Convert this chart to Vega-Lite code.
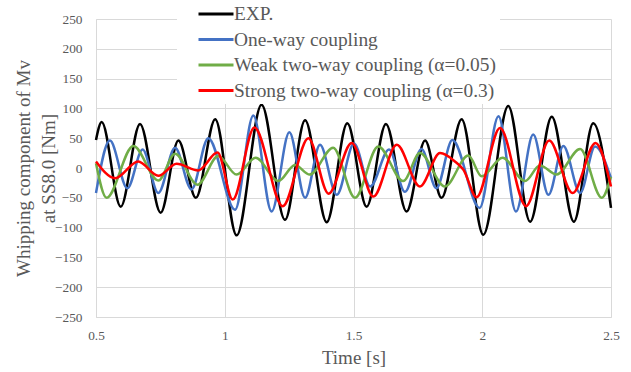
{
  "$schema": "https://vega.github.io/schema/vega-lite/v6.json",
  "width": 515,
  "height": 298,
  "autosize": {"type": "none"},
  "padding": {"left": 96, "top": 19, "right": 20, "bottom": 55},
  "background": "white",
  "config": {
    "view": {"stroke": null},
    "font": "Liberation Serif",
    "axis": {
      "labelFont": "Liberation Serif",
      "titleFont": "Liberation Serif",
      "labelColor": "#595959",
      "titleColor": "#595959",
      "labelFontSize": 13.33,
      "titleFontSize": 19,
      "titleFontWeight": "normal",
      "gridColor": "#D9D9D9",
      "gridWidth": 1,
      "domainColor": "#D9D9D9",
      "ticks": false
    },
    "legend": {
      "labelFont": "Liberation Serif",
      "labelColor": "#595959"
    }
  },
  "data": {
    "values": [
      {"s": "EXP.", "t": 0.5, "v": 47},
      {"s": "EXP.", "t": 0.522, "v": 77},
      {"s": "EXP.", "t": 0.596, "v": -65},
      {"s": "EXP.", "t": 0.671, "v": 74},
      {"s": "EXP.", "t": 0.751, "v": -75},
      {"s": "EXP.", "t": 0.82, "v": 46},
      {"s": "EXP.", "t": 0.888, "v": -50},
      {"s": "EXP.", "t": 0.963, "v": 82},
      {"s": "EXP.", "t": 1.046, "v": -113},
      {"s": "EXP.", "t": 1.143, "v": 106},
      {"s": "EXP.", "t": 1.234, "v": -87},
      {"s": "EXP.", "t": 1.312, "v": 80},
      {"s": "EXP.", "t": 1.396, "v": -91},
      {"s": "EXP.", "t": 1.476, "v": 75},
      {"s": "EXP.", "t": 1.551, "v": -65},
      {"s": "EXP.", "t": 1.626, "v": 74},
      {"s": "EXP.", "t": 1.706, "v": -73},
      {"s": "EXP.", "t": 1.778, "v": 46},
      {"s": "EXP.", "t": 1.842, "v": -50},
      {"s": "EXP.", "t": 1.92, "v": 82},
      {"s": "EXP.", "t": 2.004, "v": -112},
      {"s": "EXP.", "t": 2.101, "v": 104},
      {"s": "EXP.", "t": 2.186, "v": -90},
      {"s": "EXP.", "t": 2.27, "v": 86},
      {"s": "EXP.", "t": 2.356, "v": -90},
      {"s": "EXP.", "t": 2.431, "v": 75},
      {"s": "EXP.", "t": 2.5, "v": -67},

      {"s": "One-way coupling", "t": 0.5, "v": -42},
      {"s": "One-way coupling", "t": 0.554, "v": 46},
      {"s": "One-way coupling", "t": 0.622, "v": -34},
      {"s": "One-way coupling", "t": 0.681, "v": 31},
      {"s": "One-way coupling", "t": 0.742, "v": -42},
      {"s": "One-way coupling", "t": 0.807, "v": 34},
      {"s": "One-way coupling", "t": 0.871, "v": -36},
      {"s": "One-way coupling", "t": 0.936, "v": 50},
      {"s": "One-way coupling", "t": 1.04, "v": -70},
      {"s": "One-way coupling", "t": 1.111, "v": 88},
      {"s": "One-way coupling", "t": 1.182, "v": -73},
      {"s": "One-way coupling", "t": 1.251, "v": 60},
      {"s": "One-way coupling", "t": 1.312, "v": -50},
      {"s": "One-way coupling", "t": 1.37, "v": 39},
      {"s": "One-way coupling", "t": 1.435, "v": -45},
      {"s": "One-way coupling", "t": 1.502, "v": 41},
      {"s": "One-way coupling", "t": 1.565, "v": -31},
      {"s": "One-way coupling", "t": 1.638, "v": 31},
      {"s": "One-way coupling", "t": 1.7, "v": -40},
      {"s": "One-way coupling", "t": 1.764, "v": 32},
      {"s": "One-way coupling", "t": 1.822, "v": -34},
      {"s": "One-way coupling", "t": 1.884, "v": 47},
      {"s": "One-way coupling", "t": 1.99, "v": -67},
      {"s": "One-way coupling", "t": 2.063, "v": 87},
      {"s": "One-way coupling", "t": 2.131, "v": -73},
      {"s": "One-way coupling", "t": 2.198, "v": 56},
      {"s": "One-way coupling", "t": 2.257, "v": -45},
      {"s": "One-way coupling", "t": 2.315, "v": 37},
      {"s": "One-way coupling", "t": 2.38, "v": -42},
      {"s": "One-way coupling", "t": 2.438, "v": 36},
      {"s": "One-way coupling", "t": 2.5, "v": -17},

      {"s": "Weak two-way coupling (α=0.05)", "t": 0.5, "v": 8},
      {"s": "Weak two-way coupling (α=0.05)", "t": 0.541, "v": -50},
      {"s": "Weak two-way coupling (α=0.05)", "t": 0.645, "v": 37},
      {"s": "Weak two-way coupling (α=0.05)", "t": 0.742, "v": -21},
      {"s": "Weak two-way coupling (α=0.05)", "t": 0.807, "v": 24},
      {"s": "Weak two-way coupling (α=0.05)", "t": 0.894, "v": -28},
      {"s": "Weak two-way coupling (α=0.05)", "t": 0.975, "v": 20},
      {"s": "Weak two-way coupling (α=0.05)", "t": 1.046, "v": -11},
      {"s": "Weak two-way coupling (α=0.05)", "t": 1.12, "v": 17},
      {"s": "Weak two-way coupling (α=0.05)", "t": 1.208, "v": -22},
      {"s": "Weak two-way coupling (α=0.05)", "t": 1.273, "v": 5},
      {"s": "Weak two-way coupling (α=0.05)", "t": 1.33, "v": -11},
      {"s": "Weak two-way coupling (α=0.05)", "t": 1.421, "v": 34},
      {"s": "Weak two-way coupling (α=0.05)", "t": 1.506, "v": -50},
      {"s": "Weak two-way coupling (α=0.05)", "t": 1.596, "v": 36},
      {"s": "Weak two-way coupling (α=0.05)", "t": 1.693, "v": -22},
      {"s": "Weak two-way coupling (α=0.05)", "t": 1.758, "v": 25},
      {"s": "Weak two-way coupling (α=0.05)", "t": 1.855, "v": -31},
      {"s": "Weak two-way coupling (α=0.05)", "t": 1.946, "v": 21},
      {"s": "Weak two-way coupling (α=0.05)", "t": 1.998, "v": -14},
      {"s": "Weak two-way coupling (α=0.05)", "t": 2.079, "v": 17},
      {"s": "Weak two-way coupling (α=0.05)", "t": 2.166, "v": -22},
      {"s": "Weak two-way coupling (α=0.05)", "t": 2.224, "v": 4},
      {"s": "Weak two-way coupling (α=0.05)", "t": 2.289, "v": -11},
      {"s": "Weak two-way coupling (α=0.05)", "t": 2.38, "v": 32},
      {"s": "Weak two-way coupling (α=0.05)", "t": 2.464, "v": -50},
      {"s": "Weak two-way coupling (α=0.05)", "t": 2.5, "v": -15},

      {"s": "Strong two-way coupling (α=0.3)", "t": 0.5, "v": 11},
      {"s": "Strong two-way coupling (α=0.3)", "t": 0.574, "v": -17},
      {"s": "Strong two-way coupling (α=0.3)", "t": 0.664, "v": 11},
      {"s": "Strong two-way coupling (α=0.3)", "t": 0.742, "v": -13},
      {"s": "Strong two-way coupling (α=0.3)", "t": 0.813, "v": 7},
      {"s": "Strong two-way coupling (α=0.3)", "t": 0.897, "v": -4},
      {"s": "Strong two-way coupling (α=0.3)", "t": 0.972, "v": 26},
      {"s": "Strong two-way coupling (α=0.3)", "t": 1.031, "v": -53},
      {"s": "Strong two-way coupling (α=0.3)", "t": 1.115, "v": 68},
      {"s": "Strong two-way coupling (α=0.3)", "t": 1.225, "v": -64},
      {"s": "Strong two-way coupling (α=0.3)", "t": 1.325, "v": 50},
      {"s": "Strong two-way coupling (α=0.3)", "t": 1.403, "v": -43},
      {"s": "Strong two-way coupling (α=0.3)", "t": 1.493, "v": 42},
      {"s": "Strong two-way coupling (α=0.3)", "t": 1.577, "v": -48},
      {"s": "Strong two-way coupling (α=0.3)", "t": 1.668, "v": 39},
      {"s": "Strong two-way coupling (α=0.3)", "t": 1.758, "v": -31},
      {"s": "Strong two-way coupling (α=0.3)", "t": 1.836, "v": 25},
      {"s": "Strong two-way coupling (α=0.3)", "t": 1.894, "v": 11},
      {"s": "Strong two-way coupling (α=0.3)", "t": 1.927, "v": -3},
      {"s": "Strong two-way coupling (α=0.3)", "t": 1.978, "v": -49},
      {"s": "Strong two-way coupling (α=0.3)", "t": 2.069, "v": 67},
      {"s": "Strong two-way coupling (α=0.3)", "t": 2.17, "v": -64},
      {"s": "Strong two-way coupling (α=0.3)", "t": 2.26, "v": 46},
      {"s": "Strong two-way coupling (α=0.3)", "t": 2.351, "v": -42},
      {"s": "Strong two-way coupling (α=0.3)", "t": 2.44, "v": 42},
      {"s": "Strong two-way coupling (α=0.3)", "t": 2.5, "v": -31}
    ]
  },
  "mark": {"type": "line", "interpolate": "monotone", "strokeWidth": 2.5},
  "encoding": {
    "x": {
      "field": "t",
      "type": "quantitative",
      "scale": {"domain": [0.5, 2.5], "nice": false, "zero": false},
      "axis": {
        "values": [0.5, 1, 1.5, 2, 2.5],
        "format": "~g",
        "labelFont": "Times New Roman",
        "labelFontSize": 13.33,
        "labelColor": "#595959",
        "labelFlush": false,
        "labelPadding": 11,
        "title": "Time [s]",
        "titleFont": "Liberation Serif",
        "titleY": 40,
        "titleBaseline": "middle"
      }
    },
    "y": {
      "field": "v",
      "type": "quantitative",
      "scale": {"domain": [-250, 250], "nice": false},
      "axis": {
        "values": [-250, -200, -150, -100, -50, 0, 50, 100, 150, 200, 250],
        "format": "d",
        "labelFont": "Times New Roman",
        "labelFontSize": 13.33,
        "labelColor": "#595959",
        "labelPadding": 14,
        "title": ["Whipping component of Mv", "at SS8.0 [Nm]"],
        "titleFont": "Liberation Serif",
        "titleX": -73,
        "titleY": 149,
        "titleAngle": -90,
        "titleAlign": "center",
        "titleBaseline": "middle",
        "titleLineHeight": 25
      }
    },
    "color": {
      "field": "s",
      "type": "nominal",
      "sort": null,
      "scale": {
        "domain": ["EXP.", "One-way coupling", "Weak two-way coupling (α=0.05)", "Strong two-way coupling (α=0.3)"],
        "range": ["#000000", "#4472C4", "#70AD47", "#FF0000"]
      },
      "legend": {
        "title": null,
        "orient": "none",
        "legendX": 81,
        "legendY": -18,
        "padding": 4,
        "fillColor": "white",
        "symbolType": "stroke",
        "symbolSize": 1225,
        "symbolStrokeWidth": 3,
        "symbolOffset": 16,
        "labelOffset": -1,
        "clipHeight": 18,
        "rowPadding": 5.5,
        "labelFont": "Liberation Serif",
        "labelFontSize": 19.4,
        "labelLimit": 400
      }
    }
  }
}
